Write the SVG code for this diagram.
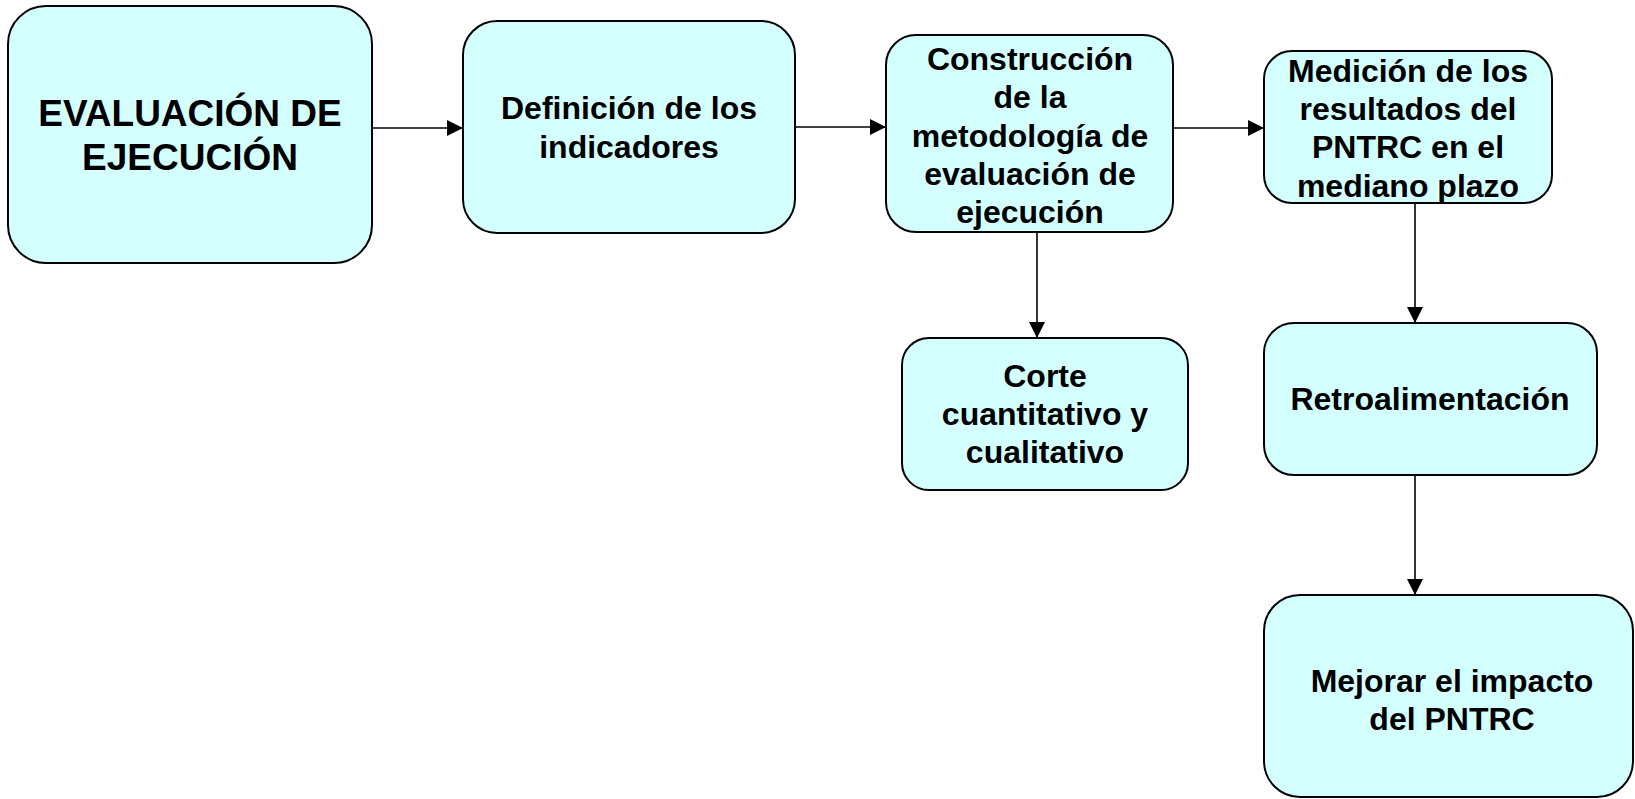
<svg xmlns="http://www.w3.org/2000/svg" width="1635" height="799" viewBox="0 0 1635 799">
<style>
.box{fill:#D4FFFF;stroke:#000;stroke-width:2}
.t{font-family:"Liberation Sans",Arial,sans-serif;font-weight:bold;font-size:32px;fill:#000;text-anchor:middle}
.big{font-size:37px}
.c{stroke:#000;stroke-width:1.6;fill:none;marker-end:url(#ah)}
</style>
<defs>
<marker id="ah" markerUnits="userSpaceOnUse" markerWidth="16" markerHeight="16" viewBox="0 0 16 16" refX="16" refY="8" orient="auto">
<path d="M0,0 L16,8 L0,16 Z" fill="#000"/>
</marker>
</defs>
<rect width="1635" height="799" fill="#fff"/>
<g id="connectors">
<line class="c" x1="372" y1="128" x2="463" y2="128"/>
<line class="c" x1="795" y1="127" x2="886" y2="127"/>
<line class="c" x1="1173" y1="128" x2="1264" y2="128"/>
<line class="c" x1="1037" y1="232" x2="1037" y2="338"/>
<line class="c" x1="1415" y1="203" x2="1415" y2="323"/>
<line class="c" x1="1415" y1="475" x2="1415" y2="595"/>
</g>
<g id="n1">
<rect class="box" x="8" y="6" width="364" height="257" rx="38"/>
<text class="t big" x="190" y="126">EVALUACIÓN DE</text>
<text class="t big" x="190" y="170">EJECUCIÓN</text>
</g>
<g id="n2">
<rect class="box" x="463" y="21" width="332" height="212" rx="34"/>
<text class="t" x="629" y="119">Definición de los</text>
<text class="t" x="629" y="158">indicadores</text>
</g>
<g id="n3">
<rect class="box" x="886" y="35" width="287" height="197" rx="30"/>
<text class="t" x="1030" y="70">Construcción</text>
<text class="t" x="1030" y="108">de la</text>
<text class="t" x="1030" y="147">metodología de</text>
<text class="t" x="1030" y="185">evaluación de</text>
<text class="t" x="1030" y="223">ejecución</text>
</g>
<g id="n4">
<rect class="box" x="1264" y="51" width="288" height="152" rx="28"/>
<text class="t" x="1408" y="82">Medición de los</text>
<text class="t" x="1408" y="120">resultados del</text>
<text class="t" x="1408" y="158">PNTRC en el</text>
<text class="t" x="1408" y="197">mediano plazo</text>
</g>
<g id="n5">
<rect class="box" x="902" y="338" width="286" height="152" rx="27"/>
<text class="t" x="1045" y="387">Corte</text>
<text class="t" x="1045" y="425">cuantitativo y</text>
<text class="t" x="1045" y="463">cualitativo</text>
</g>
<g id="n6">
<rect class="box" x="1264" y="323" width="333" height="152" rx="30"/>
<text class="t" x="1430" y="410">Retroalimentación</text>
</g>
<g id="n7">
<rect class="box" x="1264" y="595" width="369" height="202" rx="36"/>
<text class="t" x="1452" y="692">Mejorar el impacto</text>
<text class="t" x="1452" y="730">del PNTRC</text>
</g>
</svg>
